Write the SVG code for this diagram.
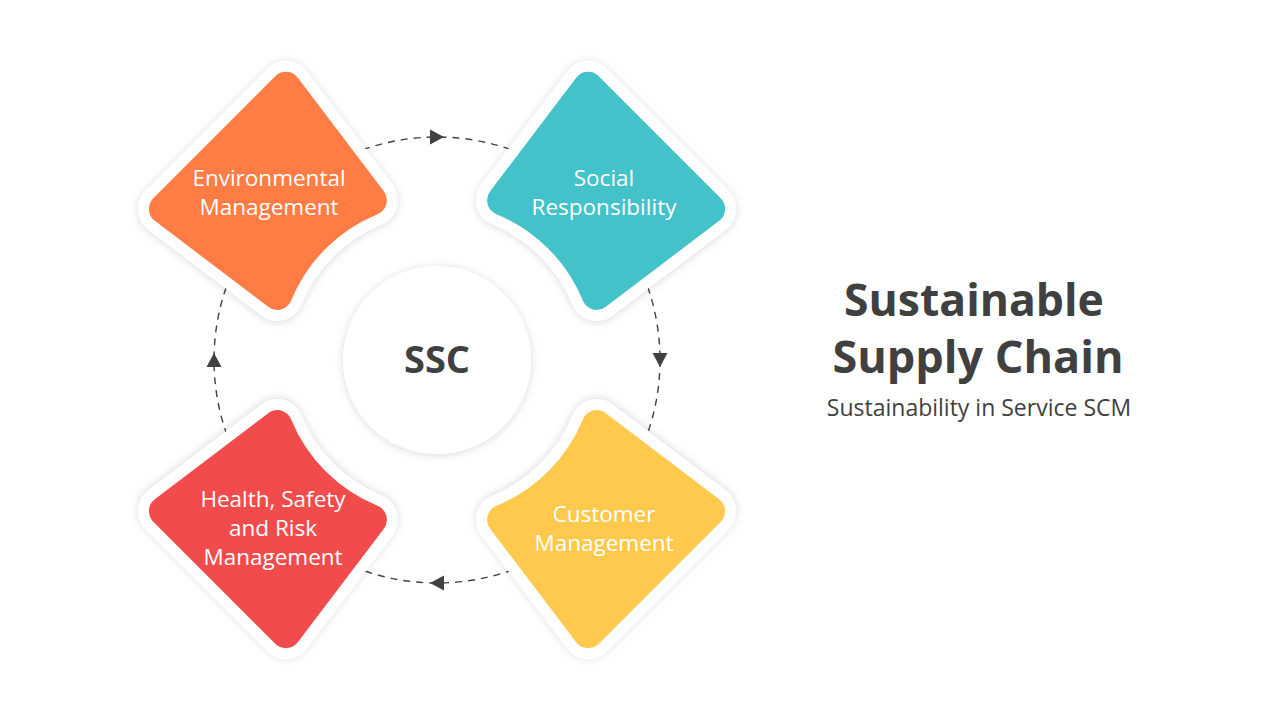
<svg xmlns="http://www.w3.org/2000/svg" xmlns:xlink="http://www.w3.org/1999/xlink" width="1280" height="720" viewBox="0 0 1280 720">
  <defs>
    <filter id="sh" x="-50%" y="-50%" width="200%" height="200%">
      <feDropShadow dx="0" dy="1" stdDeviation="4" flood-color="#000" flood-opacity="0.15"/>
    </filter>
    <path id="petal" d="M 285.86,86.87 L 371.88,200.27 A 172.5 172.5 0 0 0 277.27,294.88 L 163.87,208.86 Z"/>
    <style>
      .border { fill:#fff; stroke:#fff; stroke-width:52; stroke-linejoin:round; filter:url(#sh); }
      .o { fill:#FF7C45; stroke:#FF7C45; stroke-width:30; stroke-linejoin:round; }
      .t { fill:#43C2C9; stroke:#43C2C9; stroke-width:30; stroke-linejoin:round; }
      .r { fill:#F24B4C; stroke:#F24B4C; stroke-width:30; stroke-linejoin:round; }
      .y { fill:#FEC94C; stroke:#FEC94C; stroke-width:30; stroke-linejoin:round; }
      .lbl { font-family:"Open Sans","Noto Sans",sans-serif; font-size:22.5px; fill:#fff; text-anchor:middle; }
      .dark { fill:#404040; font-family:"Open Sans","Noto Sans",sans-serif; text-anchor:middle; }
      .arrow { fill:#404040; }
    </style>
  </defs>
  <rect width="1280" height="720" fill="#fff"/>

  <g id="connectors">
    <circle cx="437" cy="360" r="223" fill="none" stroke="#404040" stroke-width="1.4" stroke-dasharray="7 6"/>
    <polygon class="arrow" points="444,137 430,129.5 430,144.5"/>
    <polygon class="arrow" points="660,367 652.5,353 667.5,353"/>
    <polygon class="arrow" points="430,583 444,575.5 444,590.5"/>
    <polygon class="arrow" points="214,353 206.5,367 221.5,367"/>
  </g>

  <g id="node-environmental">
    <use href="#petal" class="border"/>
    <use href="#petal" class="o"/>
    <text class="lbl" x="269" y="186">Environmental</text>
    <text class="lbl" x="269" y="215">Management</text>
  </g>

  <g id="node-social">
    <use href="#petal" class="border" transform="matrix(-1 0 0 1 874 0)"/>
    <use href="#petal" class="t" transform="matrix(-1 0 0 1 874 0)"/>
    <text class="lbl" x="604" y="186">Social</text>
    <text class="lbl" x="604" y="215">Responsibility</text>
  </g>

  <g id="node-customer">
    <use href="#petal" class="border" transform="matrix(-1 0 0 -1 874 720)"/>
    <use href="#petal" class="y" transform="matrix(-1 0 0 -1 874 720)"/>
    <text class="lbl" x="604" y="522">Customer</text>
    <text class="lbl" x="604" y="551">Management</text>
  </g>

  <g id="node-health">
    <use href="#petal" class="border" transform="matrix(1 0 0 -1 0 720)"/>
    <use href="#petal" class="r" transform="matrix(1 0 0 -1 0 720)"/>
    <text class="lbl" x="273" y="507">Health, Safety</text>
    <text class="lbl" x="273" y="536">and Risk</text>
    <text class="lbl" x="273" y="565">Management</text>
  </g>

  <g id="node-ssc">
    <circle cx="437" cy="360" r="94" fill="#fff" filter="url(#sh)"/>
    <text class="dark" x="437" y="373" font-size="38" font-weight="bold">SSC</text>
  </g>

  <g id="title">
    <text class="dark" x="974" y="316" font-size="44.5" font-weight="bold">Sustainable</text>
    <text class="dark" x="978" y="373" font-size="45" font-weight="bold">Supply Chain</text>
    <text class="dark" x="979" y="416" font-size="23">Sustainability in Service SCM</text>
  </g>
</svg>
